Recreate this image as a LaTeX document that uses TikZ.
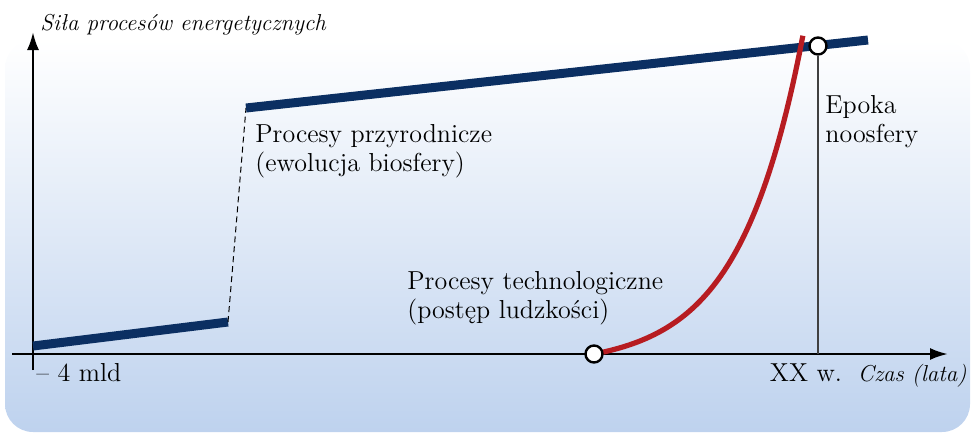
\documentclass[tikz,border=0pt]{standalone}
\usetikzlibrary{arrows.meta}
\definecolor{navy}{HTML}{0B2F62}
\definecolor{techred}{HTML}{B71C21}
\definecolor{bgblue}{HTML}{BED2EE}
\begin{document}
\begin{tikzpicture}[x=0.5pt,y=-0.5pt,
  txt/.style={font=\fontsize{13}{14.5}\selectfont, inner sep=0pt, anchor=base west, align=left},
  ital/.style={font=\fontsize{11.5}{13}\selectfont\itshape, inner sep=0pt, anchor=base west},
  axis/.style={line width=1.25pt, -{Latex[length=9pt,width=6pt]}},
  nature/.style={line width=4.5pt, navy},
  tech/.style={line width=2.6pt, techred},
  dot/.style={circle, draw=black, fill=white, line width=1.2pt, minimum size=8.5pt, inner sep=0pt},
]
\useasboundingbox (0,0) rectangle (972,434);
\shade[top color=white, bottom color=bgblue, rounded corners=14pt] (5,40) rectangle (970,432);
% axes
\coordinate (yb) at (33,370); \coordinate (yt) at (33,32);
\coordinate (xl) at (12,354); \coordinate (xr) at (948,354);
\draw[axis] (yb) -- (yt);
\draw[axis] (xl) -- (xr);
% natural processes
\coordinate (a1) at (33,346); \coordinate (a2) at (228,322);
\coordinate (b1) at (246,108); \coordinate (b2) at (868,40);
\draw[nature] (a1) -- (a2);
\draw[dashed, line width=0.5pt, dash pattern=on 3pt off 2pt] (a2) -- (b1);
\draw[nature] (b1) -- (b2);
% technological processes
\draw[tech] plot[domain=0:1, samples=80, variable=\t] ({594+209*\t},{354-319*(exp(3.3*\t)-1)/26.11});
\node[dot] (c1) at (594,354) {};
\node[dot] (c2) at (818,46) {};
\coordinate (c2base) at (818,354);
\draw[line width=0.8pt, black!75] (c2) -- (c2base);
% labels
\node[ital] (ylab) at (40,30) {Siła procesów energetycznych};
\node[ital, anchor=base east] (xlab) at (967,381) {Czas (lata)};
\node[txt] (start) at (36,381) {-- 4 mld};
\node[txt, anchor=base] (xx) at (806,381) {XX w.};
\node[txt] (nat) at (255,171) {Procesy przyrodnicze\\(ewolucja biosfery)};
\node[txt] (tec) at (407,318) {Procesy technologiczne\\(postęp ludzkości)};
\node[txt] (noo) at (825,142) {Epoka\\noosfery};
\end{tikzpicture}
\end{document}
